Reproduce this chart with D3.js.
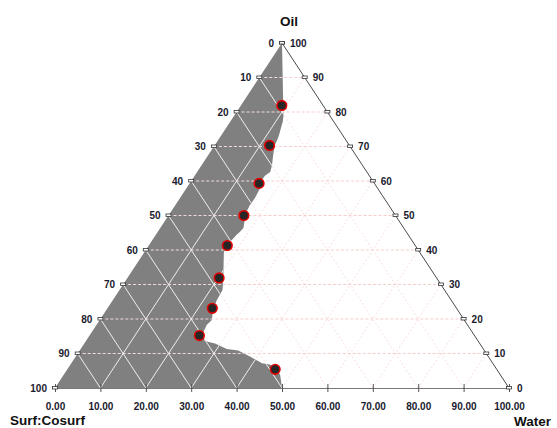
<!DOCTYPE html>
<html><head><meta charset="utf-8">
<script src="https://cdn.jsdelivr.net/npm/d3@7"></script>
<style>
body{margin:0;background:#fff}
svg{display:block}
text{font-family:"Liberation Sans",Arial,sans-serif;font-weight:bold}
</style>
</head><body>
<svg id="chart" width="557" height="428"></svg>
<script>
// Phase-boundary titration points, Smix:Oil ratios 1:9 ... 9:1 (% w/w)
const ratios   = ["1:9","2:8","3:7","4:6","5:5","6:4","7:3","8:2","9:1"];
const surfPct  = [9.1, 17.6, 25.4, 33.4, 41.4, 47.9, 53.8, 60.6, 48.8];
const oilPct   = [81.9, 70.3, 59.3, 50.0, 41.3, 31.9, 23.1, 15.2, 5.4];
const waterPct = [9.0, 12.1, 15.3, 16.6, 17.3, 20.2, 23.1, 24.2, 45.8];

// Outline of the shaded (turbid) region: oil % and water %, surf = rest
const regionOil   = [100, 83.5, 81.9, 79.1, 77.1, 75.3, 73.3, 71.9, 70.4, 67.5, 64.6, 62.6, 61.5, 60.0, 58.8, 55.1, 53.0, 50.7, 46.4, 45.2, 44.4, 42.3, 39.4, 33.6, 31.9, 28.4, 25.5, 22.6, 19.7, 18.3, 15.9, 13.6, 12.9, 11.3, 10.9, 9.1, 7.2, 6.8, 5.8, 3.8, 0, 0];
const regionWater = [0, 8.5, 9.1, 10.8, 11.6, 12.1, 12.7, 13.0, 13.2, 14.3, 15.5, 16.1, 15.5, 15.4, 16.1, 16.5, 16.4, 16.7, 18.3, 18.1, 17.8, 17.4, 17.5, 20.3, 21.1, 22.7, 22.9, 23.5, 24.7, 24.3, 24.6, 26.2, 28.8, 32.2, 34.9, 38.4, 42.0, 43.9, 45.8, 47.7, 50, 0];

const gridLevels = [10, 20, 30, 40, 50, 60, 70, 80, 90];
const leftTicks  = [0, 10, 20, 30, 40, 50, 60, 70, 80, 90, 100];   // Surf:Cosurf
const rightTicks = [100, 90, 80, 70, 60, 50, 40, 30, 20, 10, 0];   // Oil
const baseTicks  = [0, 10, 20, 30, 40, 50, 60, 70, 80, 90, 100];   // Water

const svg = d3.select("#chart");

// Water runs along the base, oil runs up to the apex
const x = d3.scaleLinear().domain([0, 100]).range([55, 509]);
const y = d3.scaleLinear().domain([0, 100]).range([388, 43]);

// (oil, water) -> pixel position; surf is the remainder
const px = (o, w) => x(w + o / 2);
const py = (o) => y(o);
const pt = (o, w) => [px(o, w), py(o)];

// Grid line segments for all three components
function gridSegments() {
  const segs = [];
  gridLevels.forEach(c => {
    segs.push({kind: "oil",   a: pt(c, 0),       b: pt(c, 100 - c)});
    segs.push({kind: "water", a: pt(0, c),       b: pt(100 - c, c)});
    segs.push({kind: "surf",  a: pt(0, 100 - c), b: pt(100 - c, 0)});
  });
  return segs;
}
const segs = gridSegments();

// Faint grid over the clear region
const gPink = svg.append("g");
gPink.selectAll("line").data(segs).join("line")
  .attr("x1", d => d.a[0]).attr("y1", d => d.a[1])
  .attr("x2", d => d.b[0]).attr("y2", d => d.b[1])
  .attr("stroke", d => d.kind === "oil" ? "#f7cccc" : "#fcd6d6")
  .attr("stroke-width", 1)
  .attr("stroke-dasharray", d => d.kind === "oil" ? "3,2" : "1.5,2.5");

// Shaded region
const regionPts = regionOil.map((o, i) => pt(o, regionWater[i]));
const regionPath = d3.line()(regionPts) + "Z";
svg.append("clipPath").attr("id", "regionClip")
  .append("path").attr("d", regionPath);
svg.append("path").attr("d", regionPath).attr("fill", "#808080");

// Light grid inside the shaded region
const gWhite = svg.append("g").attr("clip-path", "url(#regionClip)");
gWhite.selectAll("line").data(segs).join("line")
  .attr("x1", d => d.a[0]).attr("y1", d => d.a[1])
  .attr("x2", d => d.b[0]).attr("y2", d => d.b[1])
  .attr("stroke", d => d.kind === "oil" ? "#f2dada" : "#eeeeee")
  .attr("stroke-width", 1)
  .attr("stroke-dasharray", d => d.kind === "oil" ? "3,2" : null);

// Right edge (oil - water)
svg.append("line")
  .attr("x1", px(100, 0)).attr("y1", py(100))
  .attr("x2", px(0, 100)).attr("y2", py(0))
  .attr("stroke", "#4a4a4a").attr("stroke-width", 1);

// Base axis: water
const baseAxis = d3.axisBottom(x)
  .tickValues(baseTicks)
  .tickFormat(d3.format(".2f"))
  .tickSizeInner(4).tickSizeOuter(0).tickPadding(11);
const gBase = svg.append("g").attr("transform", `translate(0,${y(0)})`).call(baseAxis);
gBase.select(".domain").attr("stroke", "#777");
gBase.selectAll(".tick line").attr("y1", -4).attr("y2", 4).attr("stroke", "#555");
gBase.selectAll(".tick text")
  .attr("font-size", 10).attr("font-family", "Liberation Sans, Arial, sans-serif")
  .attr("font-weight", "bold").attr("fill", "#1a1a2e");

// Left edge ticks: Surf:Cosurf
const gLeft = svg.append("g");
leftTicks.forEach(v => {
  const cx = px(100 - v, 0), cy = py(100 - v);
  gLeft.append("rect").attr("x", cx - 2.5).attr("y", cy - 1.5)
    .attr("width", 5).attr("height", 2.5)
    .attr("fill", "#fff").attr("stroke", "#333").attr("stroke-width", 0.8);
  gLeft.append("text").attr("x", cx - 8).attr("y", cy + 3.5)
    .attr("text-anchor", "end").attr("font-size", 10).attr("fill", "#1a1a2e")
    .text(v);
});

// Right edge ticks: Oil
const gRight = svg.append("g");
rightTicks.forEach(v => {
  const cx = px(v, 100 - v), cy = py(v);
  gRight.append("rect").attr("x", cx - 2.5).attr("y", cy - 1.5)
    .attr("width", 5).attr("height", 2.5)
    .attr("fill", "#fff").attr("stroke", "#333").attr("stroke-width", 0.8);
  gRight.append("text").attr("x", cx + 8).attr("y", cy + 3.5)
    .attr("text-anchor", "start").attr("font-size", 10).attr("fill", "#1a1a2e")
    .text(v);
});

// Titration points
svg.append("g").selectAll("circle").data(ratios).join("circle")
  .attr("cx", (d, i) => px(oilPct[i], waterPct[i]))
  .attr("cy", (d, i) => py(oilPct[i]))
  .attr("r", 4.8)
  .attr("fill", "#262626")
  .attr("stroke", "#e00000").attr("stroke-width", 1.6);

// Vertex titles
svg.append("text").attr("x", 280).attr("y", 26).attr("font-size", 13.5).attr("fill", "#111").text("Oil");
svg.append("text").attr("x", 10).attr("y", 425).attr("font-size", 13.5).attr("fill", "#111").text("Surf:Cosurf");
svg.append("text").attr("x", 514).attr("y", 426).attr("font-size", 13.5).attr("fill", "#111").text("Water");
</script>
</body></html>
